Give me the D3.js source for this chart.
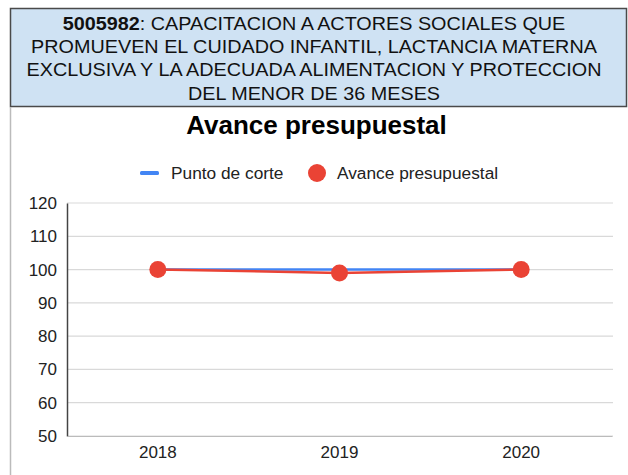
<!DOCTYPE html>
<html>
<head>
<meta charset="utf-8">
<title>Avance presupuestal</title>
<script src="https://cdn.jsdelivr.net/npm/d3@7"></script>
<style>
  body { margin: 0; background: #fff; }
  svg { display: block; font-family: "Liberation Sans", Arial, sans-serif; }
</style>
</head>
<body>
<svg id="chart" width="628" height="475"></svg>
<script>
// data
var years = ["2018", "2019", "2020"];
var puntoCorte = [100, 100, 100];
var avance = [100, 99, 100];
var yTicks = [50, 60, 70, 80, 90, 100, 110, 120];
var headerCode = "5005982";
var headerLines = [
  ": CAPACITACION A ACTORES SOCIALES QUE",
  "PROMUEVEN EL CUIDADO INFANTIL, LACTANCIA MATERNA",
  "EXCLUSIVA Y LA ADECUADA ALIMENTACION Y PROTECCION",
  "DEL MENOR DE 36 MESES"
];

var svg = d3.select("#chart");

// header box
svg.append("rect")
  .attr("x", 10.5).attr("y", 8.5)
  .attr("width", 616).attr("height", 98)
  .attr("fill", "#cfe2f3")
  .attr("stroke", "#4a4a4a").attr("stroke-width", 1.5);

// header text, a little wider than the font draws it
var head = svg.append("text")
  .attr("transform", "translate(314,0) scale(1.1,1)")
  .attr("text-anchor", "middle")
  .attr("font-size", 18)
  .attr("fill", "#111");
headerLines.forEach(function (line, i) {
  var t = head.append("tspan").attr("x", 0).attr("y", 30 + i * 23.2);
  if (i === 0) {
    t.append("tspan").attr("font-weight", "bold").text(headerCode);
    t.append("tspan").text(line);
  } else {
    t.text(line);
  }
});

// left border of chart panel
svg.append("line")
  .attr("x1", 10.5).attr("x2", 10.5)
  .attr("y1", 107).attr("y2", 475)
  .attr("stroke", "#bbb").attr("stroke-width", 1.5);

// title
svg.append("text")
  .attr("x", 316.5).attr("y", 134)
  .attr("text-anchor", "middle")
  .attr("font-size", 26).attr("font-weight", "bold")
  .attr("fill", "#000")
  .text("Avance presupuestal");

// legend
var leg = svg.append("g");
leg.append("rect")
  .attr("x", 140).attr("y", 171)
  .attr("width", 19).attr("height", 4).attr("rx", 1.5)
  .attr("fill", "#4285f4");
leg.append("text")
  .attr("x", 171).attr("y", 178.5)
  .attr("font-size", 17.3).attr("fill", "#222")
  .text("Punto de corte");
leg.append("circle")
  .attr("cx", 317).attr("cy", 173).attr("r", 9)
  .attr("fill", "#ea4335");
leg.append("text")
  .attr("x", 337).attr("y", 178.5)
  .attr("font-size", 17.3).attr("fill", "#222")
  .text("Avance presupuestal");

// scales
var x = d3.scaleBand().domain(years).range([67, 612]).padding(0);
var y = d3.scaleLinear().domain([50, 120]).range([436, 203]);

// gridlines
svg.append("g")
  .selectAll("line")
  .data(yTicks)
  .join("line")
  .attr("x1", 67).attr("x2", 613)
  .attr("y1", function (d) { return y(d); })
  .attr("y2", function (d) { return y(d); })
  .attr("stroke", "#d9d9d9").attr("stroke-width", 1.2);

// y axis
var yAxis = svg.append("g")
  .attr("transform", "translate(67,0)")
  .call(d3.axisLeft(y).tickValues(yTicks).tickSize(0).tickPadding(10));
yAxis.select(".domain").attr("stroke", "#444").attr("stroke-width", 1.5);
yAxis.selectAll("text")
  .attr("font-size", 17).attr("fill", "#222")
  .attr("font-family", "Liberation Sans, Arial, sans-serif");

// x axis
var xAxis = svg.append("g")
  .attr("transform", "translate(0,436)")
  .call(d3.axisBottom(x).tickSize(0).tickPadding(10));
xAxis.select(".domain").attr("stroke", "#bbb").attr("stroke-width", 1.2);
xAxis.selectAll("text")
  .attr("font-size", 17).attr("fill", "#222")
  .attr("font-family", "Liberation Sans, Arial, sans-serif");

var cx = function (d, i) { return x(years[i]) + x.bandwidth() / 2; };

// punto de corte line
svg.append("path")
  .datum(puntoCorte)
  .attr("fill", "none")
  .attr("stroke", "#4285f4").attr("stroke-width", 2.5)
  .attr("d", d3.line().x(cx).y(function (d) { return y(d); }));

// avance line + points
svg.append("path")
  .datum(avance)
  .attr("fill", "none")
  .attr("stroke", "#ea4335").attr("stroke-width", 2.5)
  .attr("d", d3.line().x(cx).y(function (d) { return y(d); }));

svg.append("g")
  .selectAll("circle")
  .data(avance)
  .join("circle")
  .attr("cx", cx)
  .attr("cy", function (d) { return y(d); })
  .attr("r", 8.5)
  .attr("fill", "#ea4335");
</script>
</body>
</html>
